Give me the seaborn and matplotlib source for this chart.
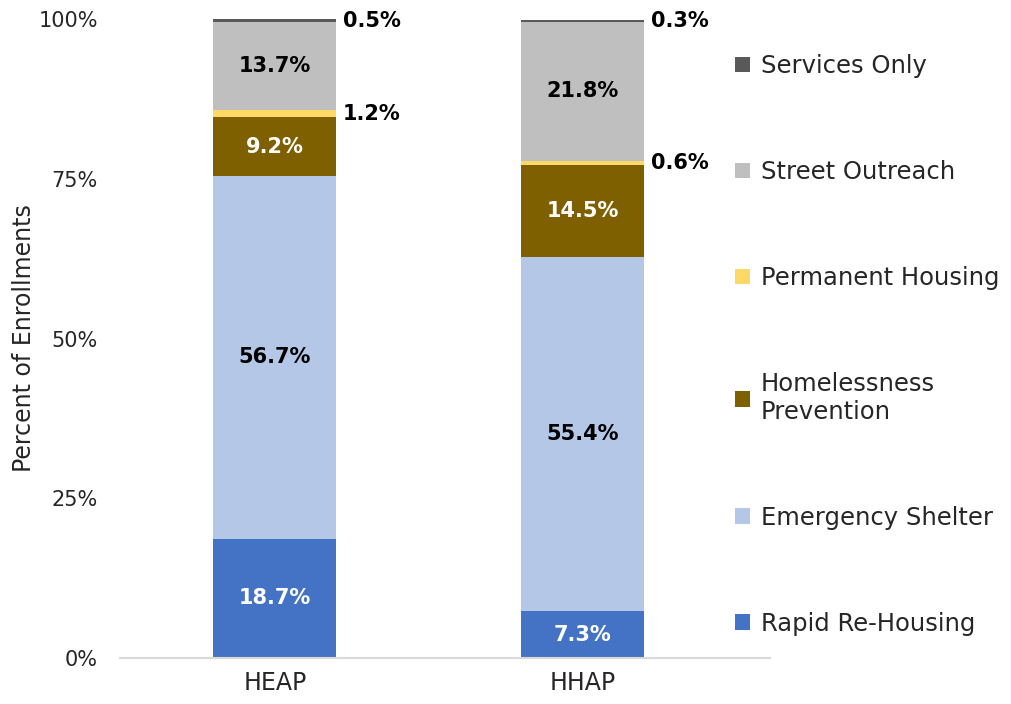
import numpy as np
import pandas as pd
import matplotlib
matplotlib.use("Agg")
import matplotlib.pyplot as plt
from matplotlib.patches import Patch
import seaborn as sns

programs = ["HEAP", "HHAP"]
# stack order, bottom to top
categories = ["Rapid Re-Housing", "Emergency Shelter", "Homelessness\nPrevention",
              "Permanent Housing", "Street Outreach", "Services Only"]
heap_pct = [18.7, 56.7, 9.2, 1.2, 13.7, 0.5]
hhap_pct = [7.3, 55.4, 14.5, 0.6, 21.8, 0.3]
colors = ["#4472C4", "#B4C7E7", "#7F6000", "#FFD966", "#BFBFBF", "#595959"]
label_colors = ["white", "black", "white", None, "black", None]  # None = label outside bar
yticks = [0, 25, 50, 75, 100]

sns.set_theme(style="white")
plt.rcParams['font.family'] = ['DejaVu Sans']

df = pd.DataFrame({
    "program": np.repeat(programs, len(categories)),
    "category": categories * 2,
    "pct": heap_pct + hhap_pct,
})
df["cum"] = df.groupby("program")["pct"].cumsum()

fig = plt.figure(figsize=(10.12, 7.04), dpi=100)
ax = fig.add_axes([0.1186, 0.0653, 0.642, 0.9077])

bar_w = 0.4
# draw cumulative totals from the top layer down so lower layers cover them
for i in reversed(range(len(categories))):
    sub = df[df.category == categories[i]]
    sns.barplot(data=sub, x="program", y="cum", order=programs, color=colors[i],
                saturation=1, width=bar_w, errorbar=None, linewidth=0, ax=ax)

for i, cat in enumerate(categories):
    sub = df[df.category == cat]
    for j, prog in enumerate(programs):
        row = sub[sub.program == prog].iloc[0]
        yc = row.cum - row.pct / 2
        txt = f"{row.pct:.1f}%"
        if label_colors[i] is not None:
            ax.text(j, yc, txt, ha="center", va="center", color=label_colors[i],
                    fontsize=15, fontweight="bold")
        else:
            ax.text(j + bar_w / 2 + 0.02, yc, txt, ha="left", va="center",
                    color="black", fontsize=15, fontweight="bold")

ax.set_xlim(-0.503, 1.607)
ax.set_ylim(0, 100)
ax.set_yticks(yticks)
ax.set_yticklabels([f"{v}%" for v in yticks])
ax.tick_params(axis="y", length=0, pad=16, labelsize=15, labelcolor="#262626")
ax.tick_params(axis="x", length=0, pad=9, labelsize=17, labelcolor="#262626")
ax.set_xlabel("")
ax.set_ylabel("Percent of Enrollments", fontsize=17, color="#262626", labelpad=2)
for s in ["top", "right", "left"]:
    ax.spines[s].set_visible(False)
ax.spines["bottom"].set_color("#D9D9D9")
ax.spines["bottom"].set_linewidth(1.5)

handles = [Patch(facecolor=colors[i], edgecolor="none") for i in reversed(range(len(categories)))]
labels = [categories[i] for i in reversed(range(len(categories)))]
fig.legend(handles, labels, loc="upper left", bbox_to_anchor=(0.705, 0.954),
           frameon=False, fontsize=17.5, labelspacing=3.37, handlelength=0.6,
           handleheight=0.6, handletextpad=0.45, labelcolor="#262626")

fig.savefig("out.png", dpi=100)
